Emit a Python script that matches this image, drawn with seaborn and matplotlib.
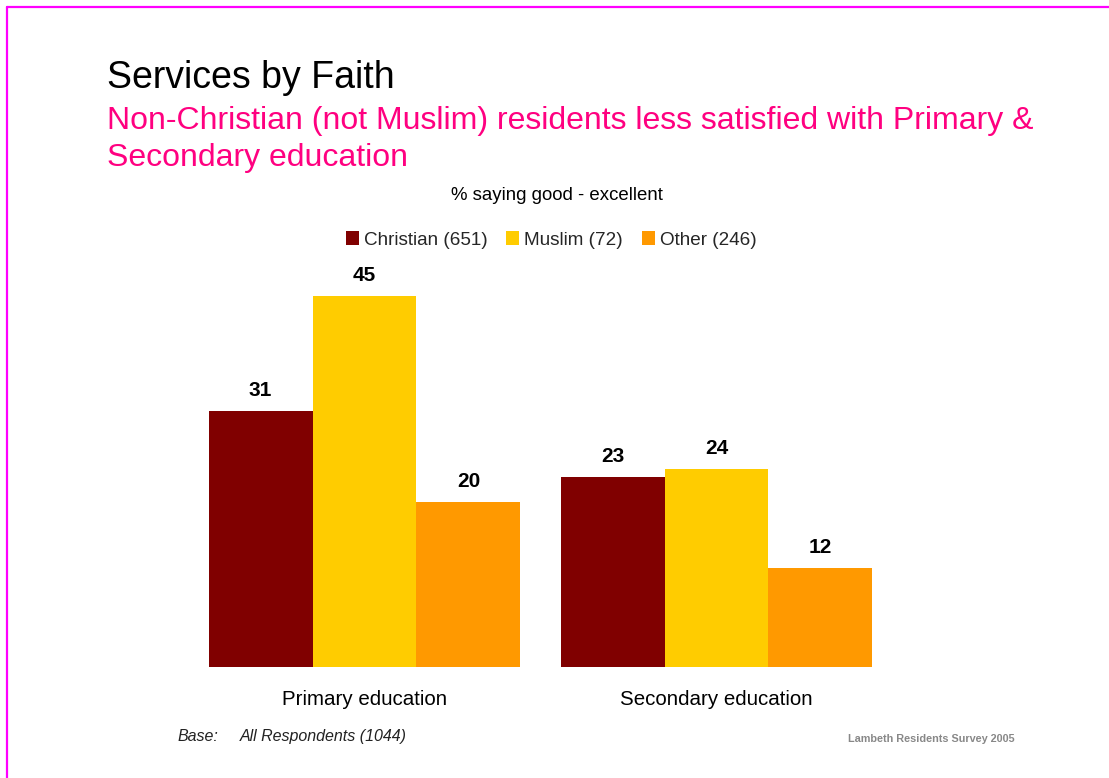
import matplotlib
matplotlib.use("Agg")
import matplotlib.pyplot as plt
from matplotlib.lines import Line2D
import seaborn as sns
import pandas as pd

# Survey results: % saying good - excellent
services = ["Primary education", "Secondary education"]
faiths = ["Christian (651)", "Muslim (72)", "Other (246)"]
christian = [31, 23]
muslim = [45, 24]
other = [20, 12]
colors = ["#800000", "#FFCC00", "#FF9900"]

rows = []
for i, svc in enumerate(services):
    for faith, vals in zip(faiths, [christian, muslim, other]):
        rows.append({"service": svc, "faith": faith, "pct": vals[i]})
df = pd.DataFrame(rows)

sns.set_theme(style="white")
plt.rcParams["font.family"] = ["Liberation Sans", "DejaVu Sans"]

W, H = 1109, 778
fig = plt.figure(figsize=(W / 100, H / 100), dpi=100)
fig.patch.set_facecolor("white")

# axes placement in pixel terms: categories 352px apart, baseline at y=667
x_left_px = 364.5 - 0.6 * 352
ax_w_px = 2.2 * 352
base_px = 667
ax_h_px = 50 * 8.25
ax = fig.add_axes([x_left_px / W, (H - base_px) / H, ax_w_px / W, ax_h_px / H])

sns.barplot(data=df, x="service", y="pct", hue="faith", palette=colors,
            width=0.886, saturation=1, linewidth=0, ax=ax, legend=True)
ax.set_xlim(-0.6, 1.6)
ax.set_ylim(0, 50)

for cont in ax.containers:
    ax.bar_label(cont, fmt="%d", padding=8, fontsize=15, fontweight="bold",
                 color="black")

ax.set_xlabel("")
ax.set_ylabel("")
ax.set_yticks([])
ax.tick_params(axis="x", length=0, labelsize=14.8, pad=16.5, colors="black")
for s in ax.spines.values():
    s.set_visible(False)
ax.set_facecolor("none")

handles, labels = ax.get_legend_handles_labels()
ax.get_legend().remove()
fig.legend(handles, labels, loc="center", bbox_to_anchor=(551 / W, 1 - 240 / H),
           ncol=3, frameon=False, fontsize=13.6, handlelength=0.7,
           handleheight=0.7, handletextpad=0.25, columnspacing=1.0)

# headings
fig.text(107 / W, 1 - 78 / H, "Services by Faith", fontsize=27, color="black",
         va="center", ha="left")
fig.text(107 / W, 1 - 121 / H,
         "Non-Christian (not Muslim) residents less satisfied with Primary &",
         fontsize=23, color="#FF0080", va="center", ha="left")
fig.text(107 / W, 1 - 158 / H, "Secondary education",
         fontsize=23, color="#FF0080", va="center", ha="left")
fig.text(557 / W, 1 - 196 / H, "% saying good - excellent", fontsize=13.4,
         color="black", va="center", ha="center")

# footer notes
fig.text(178 / W, 1 - 741 / H, "Base:", fontsize=11.5, style="italic",
         color="#222222", va="baseline", ha="left")
fig.text(240 / W, 1 - 741 / H, "All Respondents (1044)", fontsize=11.5,
         style="italic", color="#222222", va="baseline", ha="left")
fig.text(848 / W, 1 - 742 / H, "Lambeth Residents Survey 2005", fontsize=7.8,
         fontweight="bold", color="#888888", va="baseline", ha="left")

# magenta frame along the top and left edges
fig.add_artist(Line2D([6.5 / W, 1.0], [1 - 7 / H, 1 - 7 / H],
                      transform=fig.transFigure, color="#FF00FF", lw=1.6))
fig.add_artist(Line2D([7 / W, 7 / W], [0, 1 - 6.5 / H],
                      transform=fig.transFigure, color="#FF00FF", lw=1.6))

fig.savefig("out.png", dpi=100, facecolor="white")
